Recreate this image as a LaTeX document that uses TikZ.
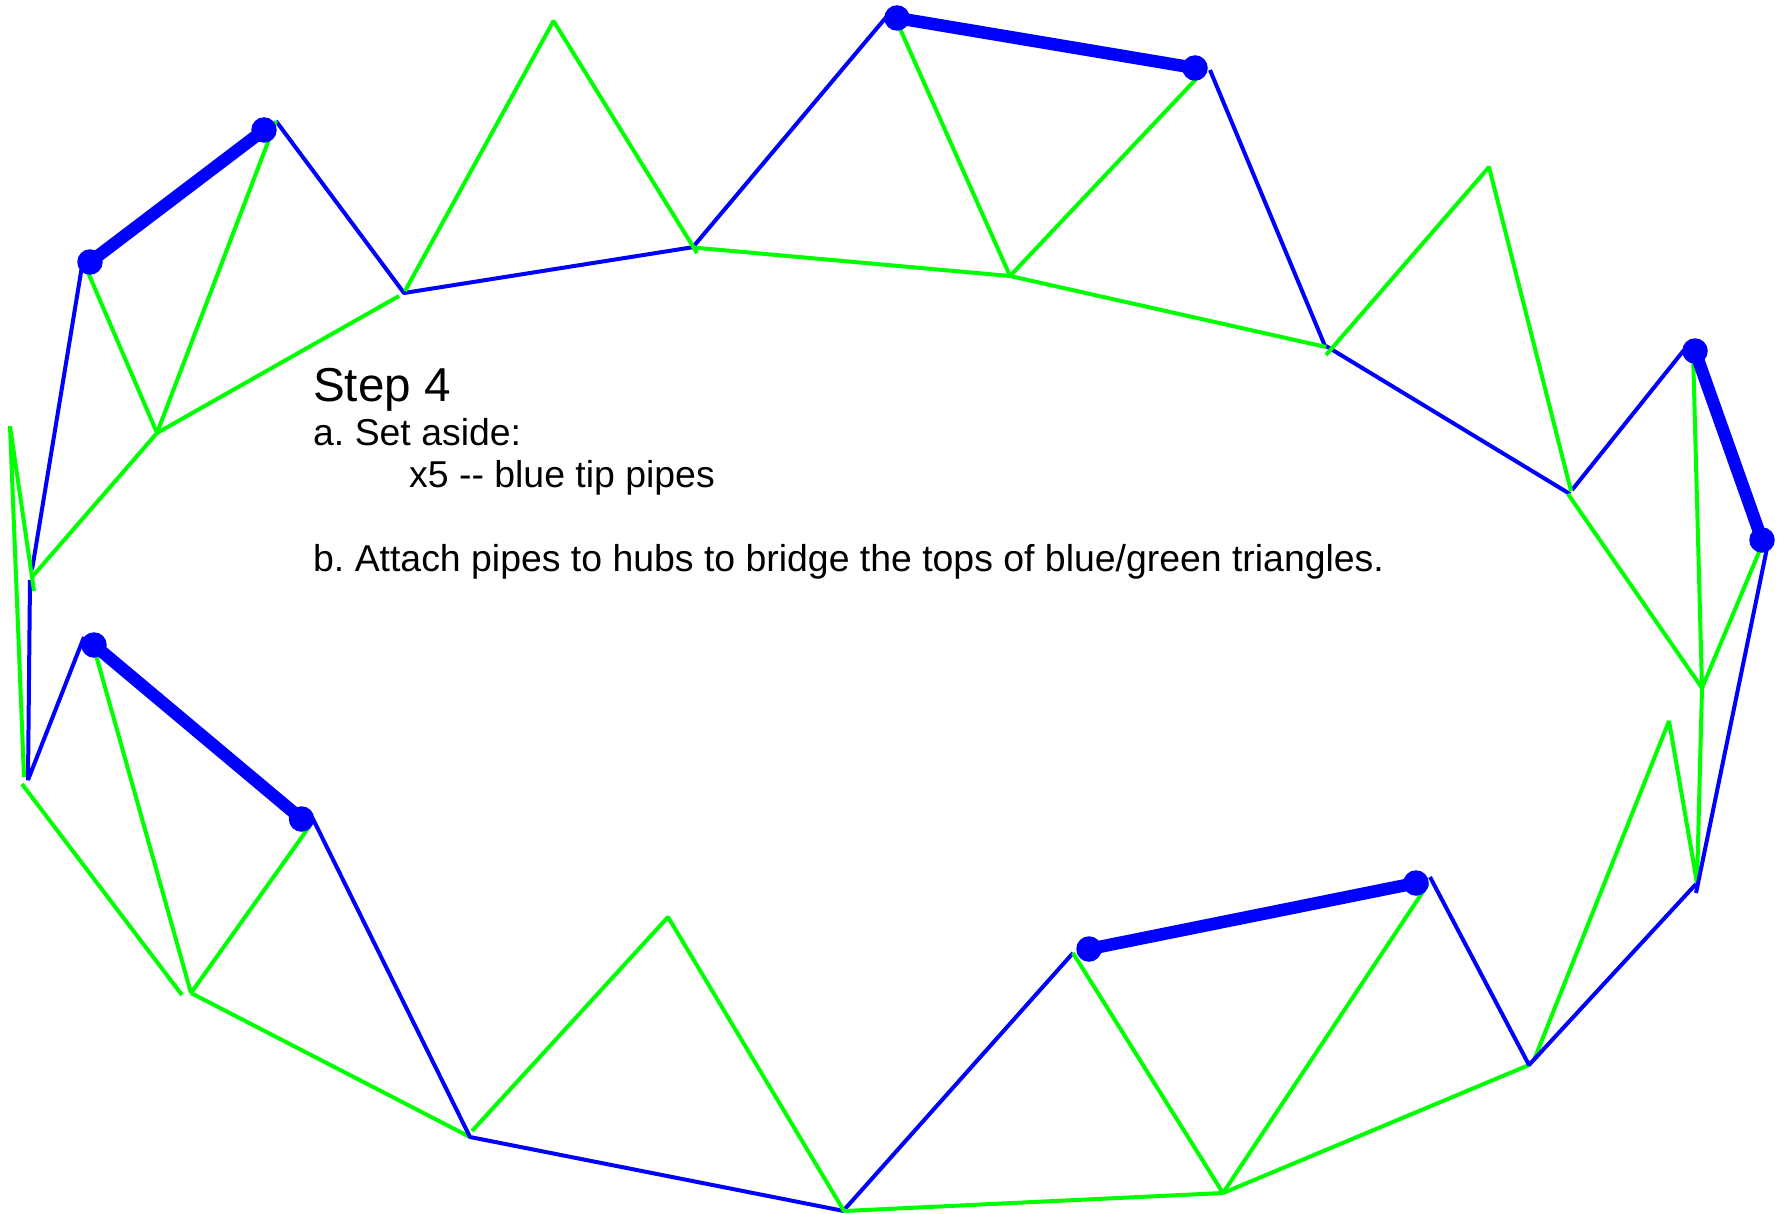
\documentclass[tikz,border=0pt]{standalone}
\usepackage{fontspec}
\setmainfont{Liberation Sans}
\definecolor{pipeblue}{RGB}{0,0,255}
\definecolor{pipegreen}{RGB}{0,255,0}
\tikzset{
  bluepipe/.style={draw=pipeblue,line width=4pt,line join=bevel},
  greenpipe/.style={draw=pipegreen,line width=4pt,line join=bevel},
  tippipe/.style={draw=pipeblue,line width=12.5pt},
  hub/.style={circle,fill=pipeblue,draw=none,minimum size=25.5pt,inner sep=0pt},
  title/.style={anchor=base west,inner sep=0pt,font=\fontsize{47.6}{48}\selectfont},
  body/.style={anchor=base west,inner sep=0pt,font=\fontsize{37.4}{42}\selectfont}
}
\frenchspacing
\begin{document}
\begin{tikzpicture}[x=1pt,y=-1pt]
\useasboundingbox (0,0) rectangle (1784,1214);
% hubs positions
\coordinate (ha) at (90,262);
\coordinate (hb) at (264,130);
\coordinate (hc) at (897,18);
\coordinate (hd) at (1195,68);
\coordinate (he) at (1695,351);
\coordinate (hf) at (1762,540);
\coordinate (hg) at (1416,883);
\coordinate (hh) at (1089,949);
\coordinate (hi) at (301.5,819);
\coordinate (hj) at (94,645);
% vertices
\coordinate (b1a) at (276,121);   \coordinate (v1) at (404,293);
\coordinate (b2b) at (694,247);   \coordinate (v2) at (693,247);
\coordinate (b3b) at (888,15);
\coordinate (b4a) at (1210,70);   \coordinate (b4b) at (1325,346);
\coordinate (b5a) at (1326,346);  \coordinate (v5) at (1570,494);
\coordinate (b6a) at (1572,490);  \coordinate (b6b) at (1684,350);
\coordinate (b7a) at (1767,548);  \coordinate (b7b) at (1696,893);
\coordinate (b8a) at (1696,884);  \coordinate (v8) at (1529,1065);
\coordinate (b9b) at (1430,877);
\coordinate (b10a) at (1073,953); \coordinate (b10b) at (844,1210);
\coordinate (v10) at (844,1211);  \coordinate (v11) at (470,1137);
\coordinate (b12b) at (312,817);
\coordinate (v13) at (28,780);    \coordinate (b13b) at (84,637);
\coordinate (b14b) at (30,580);   \coordinate (b15a) at (32,570);
\coordinate (b15b) at (82,266);
% green ends
\coordinate (g1a) at (405,291);   \coordinate (g1t) at (553.5,21);
\coordinate (g2b) at (697,253);
\coordinate (g3a) at (693,247.5); \coordinate (v3) at (1010,276);
\coordinate (g4b) at (897,22);    \coordinate (g5b) at (1198,77);
\coordinate (g6b) at (1326,347);
\coordinate (g7a) at (1326,355);  \coordinate (g7t) at (1489,167);
\coordinate (g8b) at (1571,491);
\coordinate (g9a) at (1568,494);  \coordinate (v9) at (1702,688);
\coordinate (g10b) at (1693,351); \coordinate (g11b) at (1762,545);
\coordinate (v12) at (1697,883);  \coordinate (g13t) at (1669,721);
\coordinate (g14b) at (1534,1060);
\coordinate (v15) at (1223,1193); \coordinate (g16b) at (1428,884);
\coordinate (g17b) at (1073,953);
\coordinate (g19t) at (668,917);  \coordinate (g20b) at (472,1131);
\coordinate (v21) at (191,993);   \coordinate (g22b) at (309,827);
\coordinate (g23b) at (94,648);
\coordinate (g24a) at (182,995);  \coordinate (g24b) at (22,784);
\coordinate (g25a) at (24,777);   \coordinate (g25t) at (10,426);
\coordinate (g26b) at (34,591);
\coordinate (g27a) at (32,577);   \coordinate (v27) at (157,433);
\coordinate (g28b) at (399,296);  \coordinate (g29b) at (276,121);
\coordinate (g30b) at (87,270);
% green pipes lying under the blue ones
\draw[greenpipe] (v9) -- (v12) -- (g13t) -- (g14b);
\draw[greenpipe] (v8) -- (v15);
\draw[greenpipe] (v11) -- (v21);
% blue pipes
\draw[bluepipe] (b1a) -- (v1) -- (b2b);
\draw[bluepipe] (v2) -- (b3b);
\draw[bluepipe] (b4a) -- (b4b);
\draw[bluepipe] (b5a) -- (v5);
\draw[bluepipe] (b6a) -- (b6b);
\draw[bluepipe] (b7a) -- (b7b);
\draw[bluepipe] (b8a) -- (v8) -- (b9b);
\draw[bluepipe] (b10a) -- (b10b);
\draw[bluepipe] (v10) -- (v11) -- (b12b);
\draw[bluepipe] (b13b) -- (v13) -- (b14b);
\draw[bluepipe] (b15a) -- (b15b);
% green pipes on top
\draw[greenpipe] (g1a) -- (g1t) -- (g2b);
\draw[greenpipe] (g3a) -- (v3);
\draw[greenpipe] (v3) -- (g4b);
\draw[greenpipe] (v3) -- (g5b);
\draw[greenpipe] (v3) -- (g6b);
\draw[greenpipe] (g7a) -- (g7t) -- (g8b);
\draw[greenpipe] (g9a) -- (v9);
\draw[greenpipe] (v9) -- (g10b);
\draw[greenpipe] (v9) -- (g11b);
\draw[greenpipe] (v15) -- (g16b);
\draw[greenpipe] (v15) -- (g17b);
\draw[greenpipe] (v15) -- (v10) -- (g19t) -- (g20b);
\draw[greenpipe] (v21) -- (g22b);
\draw[greenpipe] (v21) -- (g23b);
\draw[greenpipe] (g24a) -- (g24b);
\draw[greenpipe] (g25a) -- (g25t) -- (g26b);
\draw[greenpipe] (g27a) -- (v27);
\draw[greenpipe] (v27) -- (g28b);
\draw[greenpipe] (v27) -- (g29b);
\draw[greenpipe] (v27) -- (g30b);
% hubs and tip pipes
\node[hub] (hubA) at (ha) {};
\node[hub] (hubB) at (hb) {};
\node[hub] (hubC) at (hc) {};
\node[hub] (hubD) at (hd) {};
\node[hub] (hubE) at (he) {};
\node[hub] (hubF) at (hf) {};
\node[hub] (hubG) at (hg) {};
\node[hub] (hubH) at (hh) {};
\node[hub] (hubI) at (hi) {};
\node[hub] (hubJ) at (hj) {};
\draw[tippipe] (hubA.center) -- (hubB.center);
\draw[tippipe] (hubC.center) -- (hubD.center);
\draw[tippipe] (hubE.center) -- (hubF.center);
\draw[tippipe] (hubG.center) -- (hubH.center);
\draw[tippipe] (hubI.center) -- (hubJ.center);
% text
\node[title] (t0) at (313,401) {Step 4};
\node[body] (t1) at (313,445) {a. Set aside:};
\node[body] (t2) at (409,487) {x5 -{}- blue tip pipes};
\node[body] (t3) at (313,571) {b. Attach pipes to hubs to bridge the tops of blue/green triangles.};
\end{tikzpicture}
\end{document}
